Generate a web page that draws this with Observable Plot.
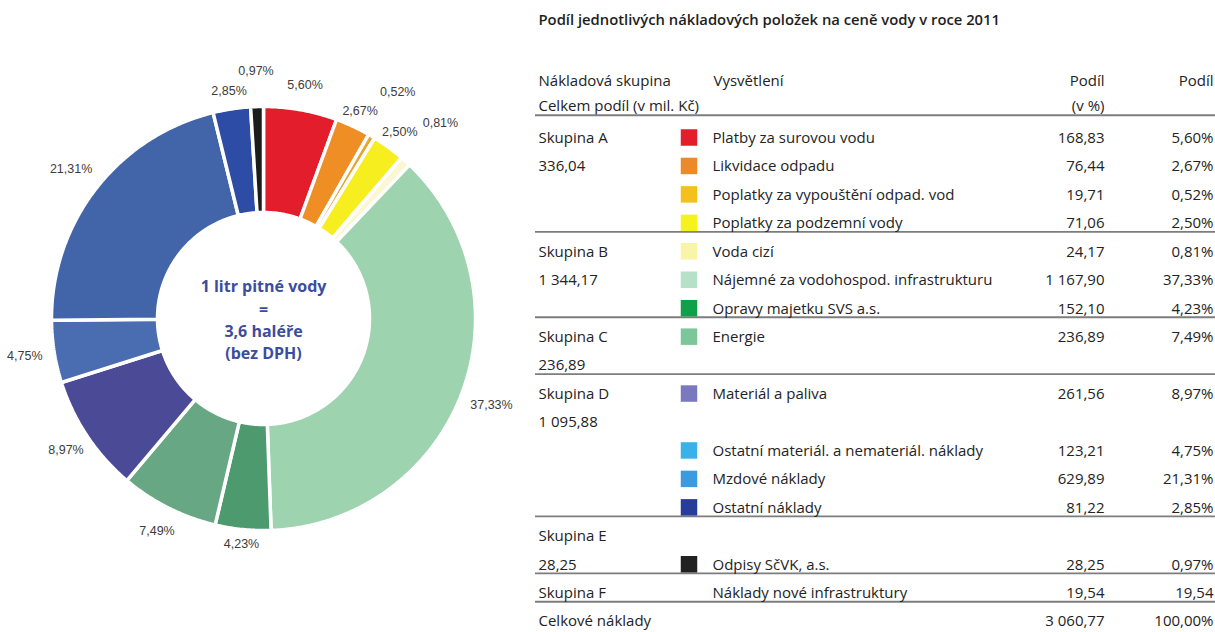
<!DOCTYPE html>
<html><head><meta charset="utf-8">
<script src="https://cdn.jsdelivr.net/npm/d3@7"></script>
<script src="https://cdn.jsdelivr.net/npm/@observablehq/plot@0.6"></script>
<style>
html,body{margin:0;padding:0;background:#fff;}
#wrap{display:flex;width:1215px;height:632px;overflow:hidden;}
#wrap svg{display:block;}
</style></head>
<body><div id="wrap"></div>
<script>
// ---------- data ----------
const title = "Podíl jednotlivých nákladových položek na ceně vody v roce 2011";
const items = [
  "Platby za surovou vodu","Likvidace odpadu","Poplatky za vypouštění odpad. vod",
  "Poplatky za podzemní vody","Voda cizí","Nájemné za vodohospod. infrastrukturu",
  "Opravy majetku SVS a.s.","Energie","Materiál a paliva",
  "Ostatní materiál. a nemateriál. náklady","Mzdové náklady","Ostatní náklady","Odpisy SčVK, a.s."
];
const values = [168.83, 76.44, 19.71, 71.06, 24.17, 1167.90, 152.10, 236.89, 261.56, 123.21, 629.89, 81.22, 28.25];
const shares = [5.60, 2.67, 0.52, 2.50, 0.81, 37.33, 4.23, 7.49, 8.97, 4.75, 21.31, 2.85, 0.97];
const itemRows = [0, 1, 2, 3, 4, 5, 6, 7, 9, 11, 12, 13, 15];
const groupNames = ["Skupina A", "Skupina B", "Skupina C", "Skupina D", "Skupina E"];
const itemGroup = [0, 0, 0, 0, 1, 1, 1, 2, 3, 3, 3, 3, 4];
const groupNameRows = [0, 4, 7, 9, 14];
const groupTotalRows = [1, 5, 8, 10, 15];
const extraGroup = {name: "Skupina F", item: "Náklady nové infrastruktury", value: 19.54, row: 16};
const totalRow = {name: "Celkové náklady", value: 3060.77, share: 100, row: 17};
const headerTop = ["Nákladová skupina", "Vysvětlení", "Podíl", "Podíl"];
const headerSub = ["Celkem podíl (v mil. Kč)", "(v %)"];
const rulesAfterRow = [-1, 3, 6, 8, 13, 15, 16];
const centerText = ["1 litr pitné vody", "=", "3,6 haléře", "(bez DPH)"];

// ---------- styles ----------
const donutColors = ["#e31d2b","#ee8e24","#e9a62c","#f6ee1e","#faf7d2","#9dd3ae","#4c9a6d","#67a783","#4a4a96","#4a6cb1","#4264a8","#2c4ca6","#1c1c1c"];
const swatchColors = ["#e31d2b","#ec8a2a","#f2c11c","#f6f21b","#f8f4a8","#b7e0c9","#10a04a","#7cc79a","#7a78bf","#39b2ea","#3a9be0","#283c9c","#222222"];
// radial distance of each percentage label (in outer radii)
const labelRadius = [1.12, 1.08, 1.24, 1.09, 1.245, 1.15, 1.07, 1.12, 1.12, 1.14, 1.15, 1.083, 1.166];
const FONT = "'Open Sans', sans-serif";

const loc = d3.formatLocale({decimal: ",", thousands: " ", grouping: [3], currency: ["", ""]});
const fmtV = loc.format(",.2f");
const fmtP = v => loc.format(".2f")(v) + "%";

// ---------- donut ----------
const W1 = 530, H = 632, CX = 263, CY = 318, RPX = 212;
const outerR = 1, innerR = 0.5;
const cum = [0, ...d3.cumsum(shares)];
const totalShare = d3.sum(shares);
const slicePts = [];
shares.forEach((s, k) => {
  const a0 = cum[k] / totalShare * 2 * Math.PI, a1 = cum[k + 1] / totalShare * 2 * Math.PI;
  const n = Math.max(2, Math.ceil((a1 - a0) / 0.01));
  for (let j = 0; j <= n; j++) { const a = a0 + (a1 - a0) * j / n; slicePts.push({k, x: outerR * Math.sin(a), y: outerR * Math.cos(a)}); }
  for (let j = n; j >= 0; j--) { const a = a0 + (a1 - a0) * j / n; slicePts.push({k, x: innerR * Math.sin(a), y: innerR * Math.cos(a)}); }
});
const labelPts = shares.map((s, k) => {
  const mid = (cum[k] + cum[k + 1]) / 2 / totalShare * 2 * Math.PI;
  const rl = labelRadius[k];
  return {x: rl * Math.sin(mid), y: rl * Math.cos(mid), text: fmtP(s)};
});

const donut = Plot.plot({
  width: W1, height: H, margin: 0,
  x: {domain: [-CX / RPX, (W1 - CX) / RPX], axis: null},
  y: {domain: [-(H - CY) / RPX, CY / RPX], axis: null},
  color: {type: "identity"},
  style: {background: "#fff"},
  marks: [
    Plot.line(slicePts, {x: "x", y: "y", z: "k", fill: d => donutColors[d.k], stroke: "white", strokeWidth: 3.5, strokeLinejoin: "miter", curve: "linear-closed"}),
    Plot.text(labelPts, {x: "x", y: "y", text: "text", fontFamily: "'Liberation Sans', Arial, sans-serif", fontSize: 12.5, fill: "#3c3c3c"}),
    Plot.text([centerText.join("\n")], {x: 0, y: 0, text: d => d, fontFamily: FONT, fontWeight: 700, fontSize: 16, lineHeight: 1.38, fill: "#3b4d9e"})
  ]
});

// ---------- table ----------
const W2 = 1215 - W1;
const itemData = items.map((name, k) => ({row: itemRows[k], name, value: fmtV(values[k]), share: fmtP(shares[k]), color: swatchColors[k]}));
const col0 = [
  ...groupNames.map((g, i) => ({row: groupNameRows[i], text: g})),
  ...groupNames.map((g, i) => ({row: groupTotalRows[i], text: fmtV(d3.sum(values.filter((v, k) => itemGroup[k] === i)))})),
  {row: extraGroup.row, text: extraGroup.name},
  {row: totalRow.row, text: totalRow.name}
];
const labelCol = [...itemData.map(d => ({row: d.row, text: d.name})), {row: extraGroup.row, text: extraGroup.item}];
const valueCol = [...itemData.map(d => ({row: d.row, text: d.value})), {row: extraGroup.row, text: fmtV(extraGroup.value)}, {row: totalRow.row, text: fmtV(totalRow.value)}];
const shareCol = [...itemData.map(d => ({row: d.row, text: d.share})), {row: extraGroup.row, text: fmtV(extraGroup.value)}, {row: totalRow.row, text: fmtP(totalRow.share)}];

const ROW0 = 137.5, PITCH = 28.45;
const txt = {fontFamily: FONT, fontSize: 15, fill: "#232323"};
const table = Plot.plot({
  width: W2, height: H, margin: 0,
  y: {domain: [0, 17], range: [ROW0, ROW0 + 17 * PITCH], axis: null},
  color: {type: "identity"},
  style: {background: "#fff"},
  marks: [
    Plot.text([title], {frameAnchor: "top-left", textAnchor: "start", dx: 8, dy: 14, text: d => d, fontFamily: FONT, fontSize: 14.8, fontWeight: 600, fill: "#1e1e1e"}),
    // header
    Plot.text([{row: -2, t: headerTop[0]}], {y: "row", text: "t", frameAnchor: "left", textAnchor: "start", dx: 8, ...txt}),
    Plot.text([{row: -2, t: headerTop[1]}], {y: "row", text: "t", frameAnchor: "left", textAnchor: "start", dx: 183, ...txt}),
    Plot.text([{row: -2, t: headerTop[2]}], {y: "row", text: "t", frameAnchor: "right", textAnchor: "end", dx: -111, ...txt}),
    Plot.text([{row: -2, t: headerTop[3]}], {y: "row", text: "t", frameAnchor: "right", textAnchor: "end", dx: -2, ...txt}),
    Plot.text([{row: -1, t: headerSub[0]}], {y: "row", text: "t", frameAnchor: "left", textAnchor: "start", dx: 8, dy: -3, ...txt}),
    Plot.text([{row: -1, t: headerSub[1]}], {y: "row", text: "t", frameAnchor: "right", textAnchor: "end", dx: -111, dy: -3, ...txt}),
    // rules
    Plot.ruleY(rulesAfterRow, {y: d => d + (d < 0 ? 0.2 : 0.3), stroke: "#7d7d7d", strokeWidth: 1.8, insetLeft: 5}),
    // columns
    Plot.text(col0, {y: "row", text: "text", frameAnchor: "left", textAnchor: "start", dx: 8, ...txt}),
    Plot.dot(itemData, {y: "row", frameAnchor: "left", dx: 158.5, dy: -0.5, symbol: "square", r: 9.3, fill: "color", stroke: null}),
    Plot.text(labelCol, {y: "row", text: "text", frameAnchor: "left", textAnchor: "start", dx: 182, ...txt}),
    Plot.text(valueCol, {y: "row", text: "text", frameAnchor: "right", textAnchor: "end", dx: -111, ...txt}),
    Plot.text(shareCol, {y: "row", text: "text", frameAnchor: "right", textAnchor: "end", dx: -2, ...txt})
  ]
});

const wrap = document.getElementById("wrap");
wrap.append(donut, table);
</script>
</body></html>
